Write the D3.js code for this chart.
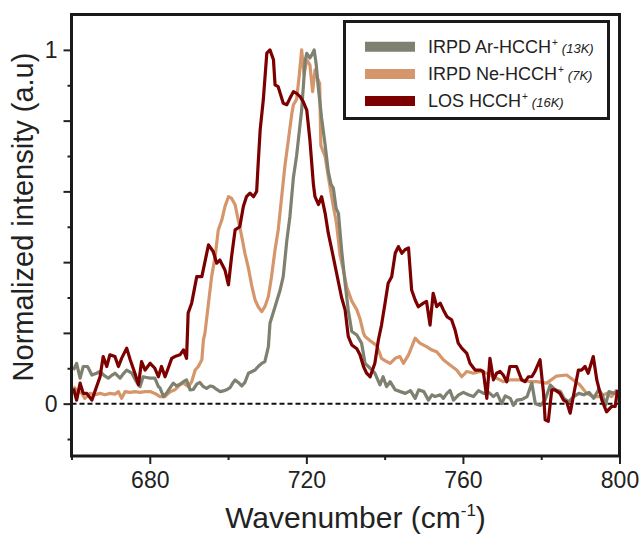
<!DOCTYPE html>
<html>
<head>
<meta charset="utf-8">
<script src="https://cdn.jsdelivr.net/npm/d3@7"></script>
<style>
  html, body { margin: 0; padding: 0; background: #ffffff; }
  svg { display: block; }
  text { font-family: "Liberation Sans", Arial, Helvetica, sans-serif; fill: #222; }
</style>
</head>
<body>
<svg id="chart" width="642" height="537"></svg>
<script>
// ---------------- DATA ----------------
const seriesNames = ["IRPD Ar-HCCH", "IRPD Ne-HCCH", "LOS HCCH"];
const seriesTemps = ["(13K)", "(7K)", "(16K)"];
const seriesColors = ["#7e8070", "#d6966b", "#7d0000"];

const arX = [660.5,661.3,662.2,663.0,664.1,665.2,666.4,667.3,668.3,669.4,670.3,671.1,672.4,673.3,674.1,675.4,676.6,677.5,678.3,679.2,680.1,681.3,682.2,682.6,683.5,684.3,685.2,686.0,686.9,687.7,688.6,689.4,690.3,691.1,692.0,692.8,693.7,694.5,695.4,696.2,697.1,698.0,698.8,699.6,700.5,701.3,701.8,702.6,703.5,704.3,705.2,706.0,706.9,707.7,708.6,709.4,710.3,710.7,712.0,713.3,714.1,715.0,715.8,716.7,717.5,718.0,718.8,719.7,720.1,720.9,721.4,722.0,722.5,723.0,723.9,724.8,725.6,726.3,726.9,727.6,728.2,729.0,729.9,730.7,731.6,732.9,734.1,735.0,736.3,737.5,738.8,739.6,740.5,741.4,742.7,744.0,745.3,746.6,747.8,748.7,750.0,751.2,752.1,752.9,754.2,755.0,755.9,756.7,757.6,758.9,760.1,761.4,762.7,764.0,765.3,766.6,767.8,768.7,769.9,770.8,772.1,772.9,773.8,775.1,776.4,777.6,778.5,779.8,781.0,782.3,783.6,784.9,785.8,787.0,788.3,789.6,790.9,792.2,793.4,794.7,795.6,796.4,797.3,798.6,799.3,800.0];
const arY = [0.095,0.114,0.072,0.105,0.105,0.081,0.086,0.091,0.080,0.072,0.080,0.086,0.072,0.085,0.095,0.086,0.062,0.048,0.076,0.074,0.072,0.072,0.048,0.045,0.020,0.030,0.045,0.058,0.050,0.055,0.062,0.067,0.039,0.040,0.055,0.060,0.048,0.043,0.050,0.048,0.040,0.034,0.036,0.039,0.045,0.060,0.067,0.060,0.050,0.060,0.086,0.090,0.095,0.105,0.114,0.119,0.161,0.227,0.274,0.321,0.360,0.460,0.529,0.640,0.700,0.750,0.830,0.970,0.990,0.977,0.986,1.000,0.960,0.900,0.807,0.731,0.656,0.620,0.609,0.552,0.538,0.435,0.340,0.265,0.204,0.194,0.171,0.114,0.100,0.086,0.053,0.076,0.048,0.062,0.039,0.034,0.029,0.037,0.015,0.039,0.034,0.010,0.025,0.020,0.025,0.015,0.029,0.037,0.010,0.025,0.032,0.025,0.020,0.037,0.029,0.032,0.020,0.029,0.000,0.022,0.015,-0.005,0.010,0.012,0.020,0.058,0.000,-0.005,0.010,0.053,0.039,0.034,0.015,0.005,0.020,0.029,0.025,0.032,0.015,0.040,0.025,-0.005,0.034,0.029,0.034,0.030];

const neX = [660.5,661.7,662.6,663.4,664.7,666.0,667.3,668.6,669.8,671.1,672.0,672.8,673.7,675.0,676.2,677.5,678.8,680.1,681.3,682.6,683.9,684.7,685.5,686.4,687.7,688.6,689.9,690.7,691.6,692.4,693.3,693.7,694.1,695.0,695.8,696.7,697.5,698.4,699.2,700.1,700.9,701.8,702.6,703.5,704.3,705.2,706.0,706.9,707.7,708.6,709.4,710.3,711.1,712.0,712.8,713.7,714.5,715.4,716.3,716.7,717.5,718.2,718.8,719.4,720.1,720.9,721.6,722.2,723.0,723.4,723.7,724.8,725.6,726.9,727.7,728.6,729.4,730.3,731.6,732.9,733.7,734.6,735.0,736.3,738.0,739.2,740.5,741.4,742.7,743.9,744.8,746.1,747.8,749.0,750.7,752.0,753.3,755.0,756.7,758.4,759.7,761.0,762.7,764.4,766.1,768.6,770.3,772.0,773.7,775.4,777.1,778.8,781.4,783.9,786.5,788.2,789.9,791.6,793.3,795.0,796.7,798.0,799.3];
const neY = [0.048,0.034,0.030,0.015,0.029,0.025,0.029,0.025,0.029,0.027,0.034,0.015,0.034,0.032,0.034,0.032,0.034,0.034,0.029,0.020,0.020,0.029,0.035,0.039,0.053,0.058,0.048,0.062,0.095,0.105,0.124,0.180,0.200,0.284,0.359,0.416,0.491,0.519,0.557,0.585,0.580,0.562,0.519,0.472,0.425,0.383,0.336,0.293,0.274,0.260,0.274,0.303,0.359,0.435,0.490,0.585,0.670,0.745,0.821,0.845,0.860,0.929,1.000,0.930,0.972,0.958,0.882,0.943,0.915,0.905,0.730,0.698,0.642,0.557,0.510,0.420,0.380,0.330,0.290,0.265,0.240,0.199,0.190,0.178,0.164,0.128,0.119,0.114,0.128,0.133,0.114,0.138,0.185,0.171,0.161,0.152,0.147,0.124,0.109,0.095,0.076,0.091,0.086,0.091,0.086,0.072,0.062,0.067,0.067,0.067,0.062,0.062,0.058,0.078,0.081,0.067,0.053,0.029,0.020,0.020,0.029,0.020,0.039];

const losX = [660.5,661.3,662.2,663.0,663.9,665.2,666.4,667.3,668.1,669.0,669.8,671.1,672.0,672.8,674.1,675.0,676.2,677.1,677.9,678.8,680.1,681.3,682.2,683.0,683.9,684.7,685.6,686.4,687.7,688.6,689.4,689.8,690.7,692.0,693.3,695.0,696.2,697.1,697.9,699.2,700.1,700.9,701.8,703.0,703.9,704.7,705.6,706.5,707.3,707.7,708.2,709.0,709.9,710.7,711.6,712.0,712.8,714.1,715.0,715.8,716.7,717.5,718.4,719.2,720.1,720.9,721.8,722.2,723.1,723.9,724.8,725.6,726.5,727.7,729.0,729.9,730.7,731.6,732.9,733.7,734.6,735.4,736.3,737.5,738.4,739.2,740.1,740.9,741.8,742.7,743.5,744.4,745.2,746.1,746.9,747.8,748.6,749.9,750.7,751.6,752.4,753.3,754.2,755.0,755.9,757.1,758.0,758.8,759.7,761.0,761.8,763.1,764.4,765.2,766.1,766.9,767.8,768.6,769.5,770.3,771.2,772.0,772.9,773.7,775.0,775.9,776.7,777.6,778.4,779.7,780.6,781.0,781.8,782.7,783.5,784.8,785.7,786.5,787.4,788.2,789.5,790.3,791.2,792.0,793.3,794.2,795.5,796.7,798.0,798.9,799.5];
const losY = [0.043,0.010,0.058,0.029,0.029,0.010,0.048,0.076,0.133,0.105,0.138,0.133,0.105,0.128,0.157,0.124,0.086,0.053,0.119,0.095,0.114,0.100,0.076,0.105,0.076,0.100,0.128,0.133,0.138,0.152,0.128,0.256,0.284,0.359,0.359,0.449,0.430,0.397,0.406,0.378,0.336,0.416,0.491,0.500,0.557,0.585,0.595,0.585,0.600,0.680,0.774,0.859,0.991,1.000,0.972,0.901,0.896,0.849,0.845,0.863,0.882,0.877,0.868,0.854,0.830,0.746,0.620,0.585,0.563,0.585,0.538,0.482,0.435,0.370,0.300,0.265,0.190,0.166,0.155,0.138,0.105,0.086,0.076,0.114,0.180,0.222,0.284,0.340,0.359,0.425,0.444,0.425,0.435,0.440,0.321,0.293,0.274,0.284,0.289,0.222,0.312,0.274,0.284,0.265,0.246,0.237,0.208,0.171,0.157,0.142,0.114,0.095,0.095,0.091,0.015,0.128,0.067,0.086,0.091,0.081,0.062,0.105,0.105,0.105,0.067,0.062,0.076,0.076,0.091,0.124,0.029,-0.046,-0.050,0.039,0.039,0.029,0.010,0.005,-0.027,0.020,0.095,0.095,0.105,0.086,0.133,0.067,0.010,-0.023,-0.008,-0.008,0.039];

const xMajorTicks = [680, 720, 760, 800];
const xMinorTicks = [660, 700, 740, 780];
const yMajorTicks = [0, 0.2, 0.4, 0.6, 0.8, 1];
const yMinorTicks = [-0.1, 0.1, 0.3, 0.5, 0.7, 0.9];
const yTickLabels = {0: "0", 1: "1"};
const xTitle = "Wavenumber (cm";
const xTitleSup = "-1";
const yTitle = "Normalized intensity (a.u)";

// ---------------- DRAW ----------------
const svg = d3.select("#chart");
const L = 71.5, R = 619.5, T = 14.5, B = 456;
const x = d3.scaleLinear().domain([660, 800]).range([L, R]);
const y = d3.scaleLinear().domain([-0.148, 1.1]).range([B, T]);

// ticks
function styleAxis(g) {
  g.select(".domain").remove();
  g.selectAll(".tick line").attr("stroke", "#222").attr("stroke-width", 2);
  g.selectAll(".tick text").style("font-size", "23px").attr("fill", "#222");
}
svg.append("g").attr("transform", `translate(0,${B})`)
  .call(d3.axisBottom(x).tickValues(xMajorTicks).tickSize(8).tickPadding(8).tickFormat(d3.format("d")))
  .call(styleAxis);
svg.append("g").attr("transform", `translate(0,${B})`)
  .call(d3.axisBottom(x).tickValues(xMinorTicks).tickSize(4).tickFormat(""))
  .call(styleAxis);
svg.append("g").attr("transform", `translate(${L},0)`)
  .call(d3.axisLeft(y).tickValues(yMajorTicks).tickSize(8).tickPadding(6).tickFormat(d => yTickLabels[d] || ""))
  .call(styleAxis);
svg.append("g").attr("transform", `translate(${L},0)`)
  .call(d3.axisLeft(y).tickValues(yMinorTicks).tickSize(4).tickFormat(""))
  .call(styleAxis);

// zero dashed line
svg.append("line")
  .attr("x1", x(660)).attr("x2", x(800))
  .attr("y1", y(0)).attr("y2", y(0))
  .attr("stroke", "#111").attr("stroke-width", 2).attr("stroke-dasharray", "5,3");

// curves
const line = d3.line().x(d => x(d[0])).y(d => y(d[1]));
const series = [
  {xs: neX, ys: neY, c: seriesColors[1]},
  {xs: arX, ys: arY, c: seriesColors[0]},
  {xs: losX, ys: losY, c: seriesColors[2]}
];
series.forEach(s => {
  svg.append("path")
    .datum(d3.zip(s.xs, s.ys))
    .attr("d", line)
    .attr("fill", "none")
    .attr("stroke", s.c)
    .attr("stroke-width", 3.2)
    .attr("stroke-linejoin", "round");
});

// frame
svg.append("rect")
  .attr("x", L).attr("y", T).attr("width", R - L).attr("height", B - T)
  .attr("fill", "none").attr("stroke", "#1a1a1a").attr("stroke-width", 3);

// axis titles
const xt = svg.append("text").attr("x", (L + R) / 2 + 10).attr("y", 528)
  .attr("text-anchor", "middle").style("font-size", "30px").attr("fill", "#222");
xt.append("tspan").text(xTitle);
xt.append("tspan").attr("dy", -12).style("font-size", "17px").text(xTitleSup);
xt.append("tspan").attr("dy", 12).text(")");

svg.append("text")
  .attr("transform", `translate(33,217) rotate(-90)`)
  .attr("text-anchor", "middle").style("font-size", "29px").attr("fill", "#222")
  .text(yTitle);

// legend
const lg = svg.append("g");
lg.append("rect").attr("x", 344.5).attr("y", 21.5).attr("width", 264).attr("height", 97)
  .attr("fill", "#fff").attr("stroke", "#1a1a1a").attr("stroke-width", 3);
const legendY = [46.7, 74, 101];
seriesNames.forEach((n, i) => {
  lg.append("line").attr("x1", 365).attr("x2", 415).attr("y1", legendY[i]).attr("y2", legendY[i])
    .attr("stroke", seriesColors[i]).attr("stroke-width", 10);
  const t = lg.append("text").attr("x", 428).attr("y", legendY[i] + 5.8).style("font-size", "18px");
  t.append("tspan").text(n);
  t.append("tspan").attr("dy", -7).attr("dx", 1).style("font-size", "10px").text("+");
  t.append("tspan").attr("dy", 7).attr("dx", 4).style("font-size", "13px").style("font-style", "italic").text(seriesTemps[i]);
});
</script>
</body>
</html>
